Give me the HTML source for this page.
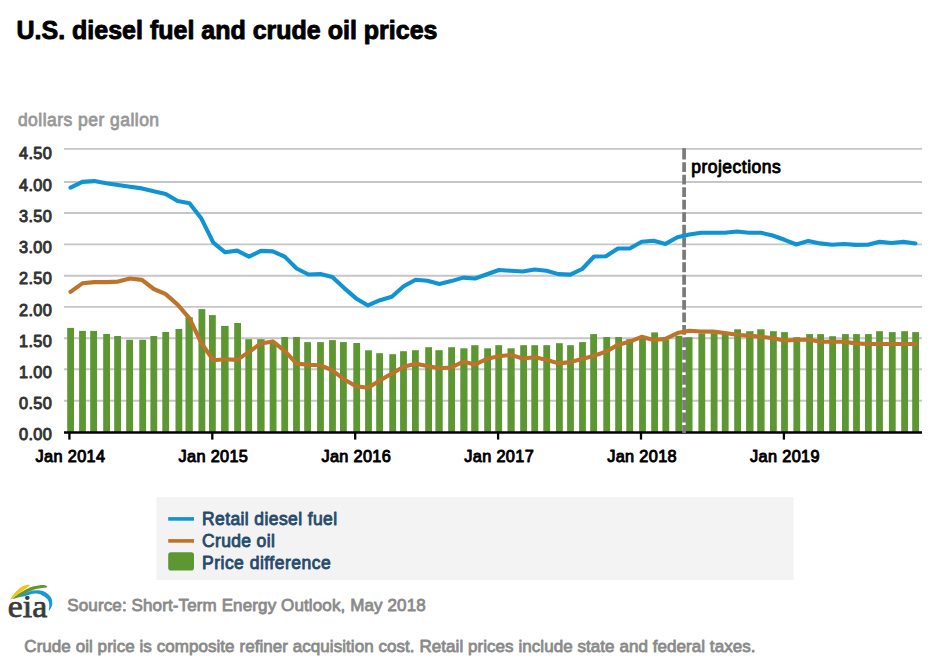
<!DOCTYPE html>
<html lang="en">
<head>
<meta charset="utf-8">
<title>U.S. diesel fuel and crude oil prices</title>
<style>
html,body{margin:0;padding:0;background:#fff;}
body{width:938px;height:660px;overflow:hidden;font-family:"Liberation Sans",sans-serif;}
svg{display:block;}
svg text{font-family:"Liberation Sans",sans-serif;}
</style>
</head>
<body>
<svg width="938" height="660" viewBox="0 0 938 660">
<rect x="0" y="0" width="938" height="660" fill="#ffffff"/>
<text x="16.5" y="38.5" font-size="25" font-weight="bold" fill="#000" stroke="#000" stroke-width="0.9" stroke-linejoin="round">U.S. diesel fuel and crude oil prices</text>
<text x="17.9" y="126.3" font-size="17.5" font-weight="normal" fill="#999999" stroke="#999999" stroke-width="0.8" stroke-linejoin="round" text-anchor="start" textLength="141.2" lengthAdjust="spacing">dollars per gallon</text>
<g stroke="#c6c6c6" stroke-width="1.9">
<line x1="64" y1="400.8" x2="922" y2="400.8"/>
<line x1="64" y1="369.3" x2="922" y2="369.3"/>
<line x1="64" y1="338.3" x2="922" y2="338.3"/>
<line x1="64" y1="306.9" x2="922" y2="306.9"/>
<line x1="64" y1="275.8" x2="922" y2="275.8"/>
<line x1="64" y1="244.4" x2="922" y2="244.4"/>
<line x1="64" y1="213.0" x2="922" y2="213.0"/>
<line x1="64" y1="182.0" x2="922" y2="182.0"/>
<line x1="64" y1="148.9" x2="922" y2="148.9"/>
</g>
<text x="18.9" y="440.4" font-size="16.3" font-weight="normal" fill="#333333" stroke="#333333" stroke-width="0.95" stroke-linejoin="round" text-anchor="start" textLength="33.0" lengthAdjust="spacing">0.00</text>
<text x="18.9" y="409.2" font-size="16.3" font-weight="normal" fill="#333333" stroke="#333333" stroke-width="0.95" stroke-linejoin="round" text-anchor="start" textLength="33.0" lengthAdjust="spacing">0.50</text>
<text x="18.9" y="378.0" font-size="16.3" font-weight="normal" fill="#333333" stroke="#333333" stroke-width="0.95" stroke-linejoin="round" text-anchor="start" textLength="33.0" lengthAdjust="spacing">1.00</text>
<text x="18.9" y="346.7" font-size="16.3" font-weight="normal" fill="#333333" stroke="#333333" stroke-width="0.95" stroke-linejoin="round" text-anchor="start" textLength="33.0" lengthAdjust="spacing">1.50</text>
<text x="18.9" y="315.5" font-size="16.3" font-weight="normal" fill="#333333" stroke="#333333" stroke-width="0.95" stroke-linejoin="round" text-anchor="start" textLength="33.0" lengthAdjust="spacing">2.00</text>
<text x="18.9" y="284.3" font-size="16.3" font-weight="normal" fill="#333333" stroke="#333333" stroke-width="0.95" stroke-linejoin="round" text-anchor="start" textLength="33.0" lengthAdjust="spacing">2.50</text>
<text x="18.9" y="253.1" font-size="16.3" font-weight="normal" fill="#333333" stroke="#333333" stroke-width="0.95" stroke-linejoin="round" text-anchor="start" textLength="33.0" lengthAdjust="spacing">3.00</text>
<text x="18.9" y="221.9" font-size="16.3" font-weight="normal" fill="#333333" stroke="#333333" stroke-width="0.95" stroke-linejoin="round" text-anchor="start" textLength="33.0" lengthAdjust="spacing">3.50</text>
<text x="18.9" y="190.6" font-size="16.3" font-weight="normal" fill="#333333" stroke="#333333" stroke-width="0.95" stroke-linejoin="round" text-anchor="start" textLength="33.0" lengthAdjust="spacing">4.00</text>
<text x="18.9" y="159.4" font-size="16.3" font-weight="normal" fill="#333333" stroke="#333333" stroke-width="0.95" stroke-linejoin="round" text-anchor="start" textLength="33.0" lengthAdjust="spacing">4.50</text>
<g fill="#5d9732">
<rect x="67.2" y="327.9" width="6.8" height="104.6"/>
<rect x="79.1" y="330.9" width="6.8" height="101.6"/>
<rect x="90.2" y="330.9" width="6.8" height="101.6"/>
<rect x="103.2" y="334.0" width="6.8" height="98.5"/>
<rect x="114.2" y="336.0" width="6.8" height="96.5"/>
<rect x="126.2" y="339.8" width="6.8" height="92.7"/>
<rect x="139.3" y="339.8" width="6.8" height="92.7"/>
<rect x="150.4" y="336.0" width="6.8" height="96.5"/>
<rect x="162.3" y="332.0" width="6.8" height="100.5"/>
<rect x="175.5" y="329.0" width="6.8" height="103.5"/>
<rect x="185.5" y="317.3" width="7.3" height="115.2"/>
<rect x="198.5" y="309.1" width="6.8" height="123.4"/>
<rect x="209.0" y="315.1" width="6.8" height="117.4"/>
<rect x="221.1" y="325.9" width="7.5" height="106.6"/>
<rect x="234.2" y="323.0" width="6.8" height="109.5"/>
<rect x="245.3" y="339.2" width="6.8" height="93.3"/>
<rect x="257.2" y="339.2" width="7.4" height="93.3"/>
<rect x="269.7" y="342.0" width="6.8" height="90.5"/>
<rect x="281.3" y="337.0" width="6.8" height="95.5"/>
<rect x="293.1" y="337.0" width="6.8" height="95.5"/>
<rect x="304.2" y="342.1" width="6.8" height="90.4"/>
<rect x="317.1" y="342.1" width="6.8" height="90.4"/>
<rect x="329.1" y="340.1" width="6.8" height="92.4"/>
<rect x="340.0" y="342.1" width="6.8" height="90.4"/>
<rect x="353.3" y="343.0" width="6.8" height="89.5"/>
<rect x="365.1" y="350.3" width="6.8" height="82.2"/>
<rect x="376.2" y="353.2" width="6.8" height="79.3"/>
<rect x="389.3" y="354.2" width="6.8" height="78.3"/>
<rect x="400.1" y="351.2" width="6.8" height="81.3"/>
<rect x="412.0" y="350.2" width="6.8" height="82.3"/>
<rect x="425.2" y="347.2" width="6.8" height="85.3"/>
<rect x="435.4" y="350.2" width="7.3" height="82.3"/>
<rect x="448.2" y="347.2" width="6.8" height="85.3"/>
<rect x="460.3" y="348.3" width="7.2" height="84.2"/>
<rect x="471.2" y="345.2" width="7.3" height="87.3"/>
<rect x="484.2" y="348.3" width="6.8" height="84.2"/>
<rect x="495.3" y="345.2" width="6.8" height="87.3"/>
<rect x="507.5" y="348.3" width="7.2" height="84.2"/>
<rect x="520.2" y="345.2" width="6.8" height="87.3"/>
<rect x="531.3" y="345.2" width="6.8" height="87.3"/>
<rect x="543.3" y="345.2" width="6.8" height="87.3"/>
<rect x="556.0" y="343.2" width="6.8" height="89.3"/>
<rect x="567.1" y="345.2" width="6.8" height="87.3"/>
<rect x="579.1" y="342.1" width="6.8" height="90.4"/>
<rect x="590.2" y="334.1" width="6.8" height="98.4"/>
<rect x="603.3" y="337.0" width="6.8" height="95.5"/>
<rect x="615.2" y="337.0" width="6.8" height="95.5"/>
<rect x="626.3" y="339.2" width="6.8" height="93.3"/>
<rect x="639.1" y="338.0" width="6.8" height="94.5"/>
<rect x="651.2" y="332.4" width="6.8" height="100.1"/>
<rect x="662.4" y="340.0" width="6.8" height="92.5"/>
<rect x="675.4" y="335.8" width="6.8" height="96.7"/>
<rect x="685.7" y="337.2" width="6.8" height="95.3"/>
<rect x="698.4" y="333.3" width="6.8" height="99.2"/>
<rect x="710.7" y="333.3" width="6.8" height="99.2"/>
<rect x="721.8" y="334.0" width="6.8" height="98.5"/>
<rect x="734.2" y="329.3" width="6.8" height="103.2"/>
<rect x="746.1" y="331.2" width="7.4" height="101.3"/>
<rect x="757.2" y="329.3" width="7.4" height="103.2"/>
<rect x="770.0" y="331.2" width="6.8" height="101.3"/>
<rect x="781.1" y="332.1" width="6.8" height="100.4"/>
<rect x="793.4" y="337.2" width="6.8" height="95.3"/>
<rect x="806.2" y="334.1" width="6.8" height="98.4"/>
<rect x="817.2" y="334.1" width="6.8" height="98.4"/>
<rect x="829.2" y="336.2" width="6.8" height="96.3"/>
<rect x="842.0" y="334.1" width="6.8" height="98.4"/>
<rect x="853.1" y="334.1" width="6.8" height="98.4"/>
<rect x="865.0" y="334.1" width="6.8" height="98.4"/>
<rect x="876.1" y="331.2" width="6.8" height="101.3"/>
<rect x="888.9" y="332.1" width="6.8" height="100.4"/>
<rect x="901.2" y="331.2" width="6.8" height="101.3"/>
<rect x="912.2" y="332.1" width="6.8" height="100.4"/>
</g>
<line x1="64" y1="432.5" x2="922" y2="432.5" stroke="#000" stroke-width="2.6"/>
<line x1="69.4" y1="432" x2="69.4" y2="439.6" stroke="#000" stroke-width="2.3"/>
<text x="35.6" y="462.3" font-size="16.3" font-weight="normal" fill="#000000" stroke="#000000" stroke-width="0.95" stroke-linejoin="round" text-anchor="start" textLength="69.4" lengthAdjust="spacing">Jan 2014</text>
<line x1="212.3" y1="432" x2="212.3" y2="439.6" stroke="#000" stroke-width="2.3"/>
<text x="178.5" y="462.3" font-size="16.3" font-weight="normal" fill="#000000" stroke="#000000" stroke-width="0.95" stroke-linejoin="round" text-anchor="start" textLength="69.4" lengthAdjust="spacing">Jan 2015</text>
<line x1="355.2" y1="432" x2="355.2" y2="439.6" stroke="#000" stroke-width="2.3"/>
<text x="321.4" y="462.3" font-size="16.3" font-weight="normal" fill="#000000" stroke="#000000" stroke-width="0.95" stroke-linejoin="round" text-anchor="start" textLength="69.4" lengthAdjust="spacing">Jan 2016</text>
<line x1="498.1" y1="432" x2="498.1" y2="439.6" stroke="#000" stroke-width="2.3"/>
<text x="464.3" y="462.3" font-size="16.3" font-weight="normal" fill="#000000" stroke="#000000" stroke-width="0.95" stroke-linejoin="round" text-anchor="start" textLength="69.4" lengthAdjust="spacing">Jan 2017</text>
<line x1="641.0" y1="432" x2="641.0" y2="439.6" stroke="#000" stroke-width="2.3"/>
<text x="607.2" y="462.3" font-size="16.3" font-weight="normal" fill="#000000" stroke="#000000" stroke-width="0.95" stroke-linejoin="round" text-anchor="start" textLength="69.4" lengthAdjust="spacing">Jan 2018</text>
<line x1="783.9" y1="432" x2="783.9" y2="439.6" stroke="#000" stroke-width="2.3"/>
<text x="750.1" y="462.3" font-size="16.3" font-weight="normal" fill="#000000" stroke="#000000" stroke-width="0.95" stroke-linejoin="round" text-anchor="start" textLength="69.4" lengthAdjust="spacing">Jan 2019</text>
<line x1="684.1" y1="148.2" x2="684.1" y2="150" stroke="#7a7a7a" stroke-width="3.7"/>
<line x1="684.1" y1="149.65" x2="684.1" y2="433" stroke="#7a7a7a" stroke-width="3.7" stroke-dasharray="9.85 2.67"/>
<text x="691.2" y="173.4" font-size="17.5" font-weight="normal" fill="#000000" stroke="#000000" stroke-width="0.9" stroke-linejoin="round" text-anchor="start" textLength="89.6" lengthAdjust="spacing">projections</text>
<path d="M70.5,291.9 L82.4,283.3 L94.3,282.1 L106.2,282.1 L118.1,281.6 L130.0,278.5 L141.9,279.9 L153.8,289.0 L165.7,294.1 L177.6,304.6 L189.5,318.3 L201.4,343.0 L213.3,360.3 L225.2,359.3 L237.1,359.9 L249.0,351.9 L260.9,343.4 L272.8,341.4 L284.7,350.8 L296.6,363.6 L308.5,364.8 L320.4,365.2 L332.3,370.3 L344.2,379.5 L356.1,386.2 L368.0,387.8 L379.9,380.6 L391.8,373.6 L403.7,366.8 L415.6,363.7 L427.5,366.1 L439.4,368.2 L451.3,367.5 L463.2,361.7 L475.1,364.5 L487.0,358.8 L498.9,356.2 L510.8,354.9 L522.7,358.5 L534.6,357.2 L546.5,359.7 L558.4,363.4 L570.3,362.1 L582.2,358.9 L594.1,355.7 L606.0,351.6 L617.9,344.9 L629.8,341.6 L641.7,336.8 L653.6,340.0 L665.5,338.9 L677.4,333.1 L689.3,330.7 L701.2,331.5 L713.1,331.6 L725.0,333.0 L736.9,334.8 L748.8,335.7 L760.7,336.6 L772.6,338.2 L784.5,340.5 L796.4,340.0 L808.3,339.5 L820.2,341.8 L832.1,341.8 L844.0,341.8 L855.9,343.4 L867.8,344.0 L879.7,344.0 L891.6,344.0 L903.5,344.0 L915.4,344.0" fill="none" stroke="#bd732a" stroke-width="4.1" stroke-linejoin="round" stroke-linecap="round"/>
<path d="M70.5,187.6 L82.4,181.9 L94.3,181.1 L106.2,183.3 L118.1,185.0 L130.0,186.7 L141.9,188.4 L153.8,191.3 L165.7,193.9 L177.6,201.0 L189.5,203.3 L201.4,218.6 L213.3,242.7 L225.2,252.3 L237.1,250.6 L249.0,256.6 L260.9,250.9 L272.8,251.4 L284.7,256.6 L296.6,268.5 L308.5,274.5 L320.4,274.1 L332.3,277.0 L344.2,288.1 L356.1,298.4 L368.0,305.4 L379.9,300.2 L391.8,296.8 L403.7,286.2 L415.6,279.7 L427.5,280.7 L439.4,284.0 L451.3,281.1 L463.2,277.6 L475.1,278.5 L487.0,274.2 L498.9,270.0 L510.8,270.8 L522.7,271.5 L534.6,269.5 L546.5,270.7 L558.4,274.1 L570.3,274.6 L582.2,269.0 L594.1,256.5 L606.0,256.2 L617.9,248.5 L629.8,248.5 L641.7,241.7 L653.6,240.8 L665.5,243.9 L677.4,237.3 L689.3,234.5 L701.2,232.7 L713.1,232.7 L725.0,232.7 L736.9,231.5 L748.8,232.7 L760.7,232.7 L772.6,235.5 L784.5,239.8 L796.4,244.5 L808.3,240.9 L820.2,243.4 L832.1,244.7 L844.0,244.0 L855.9,244.9 L867.8,244.7 L879.7,241.8 L891.6,243.0 L903.5,241.8 L915.4,243.5" fill="none" stroke="#0f93d2" stroke-width="4.1" stroke-linejoin="round" stroke-linecap="round"/>
<rect x="156.4" y="497.3" width="637.2" height="82.8" fill="#f3f3f3"/>
<line x1="168.2" y1="518.9" x2="194" y2="518.9" stroke="#0f93d2" stroke-width="3.6"/>
<text x="202.0" y="525.1" font-size="17.5" font-weight="normal" fill="#274b6d" stroke="#274b6d" stroke-width="0.85" stroke-linejoin="round" text-anchor="start" textLength="135.1" lengthAdjust="spacing">Retail diesel fuel</text>
<line x1="168.2" y1="540.9" x2="194" y2="540.9" stroke="#bd732a" stroke-width="3.6"/>
<text x="202.0" y="547.0" font-size="17.5" font-weight="normal" fill="#274b6d" stroke="#274b6d" stroke-width="0.85" stroke-linejoin="round" text-anchor="start" textLength="72.8" lengthAdjust="spacing">Crude oil</text>
<rect x="168.2" y="552.2" width="25.8" height="18.4" rx="2.8" ry="2.8" fill="#5d9732"/>
<text x="202.0" y="568.7" font-size="17.5" font-weight="normal" fill="#274b6d" stroke="#274b6d" stroke-width="0.85" stroke-linejoin="round" text-anchor="start" textLength="128.7" lengthAdjust="spacing">Price difference</text>
<g id="logo">
<path d="M17.40,597.20 C17.57,596.68 21.85,594.48 24.00,593.50 C26.15,592.52 28.23,591.83 30.30,591.30 C32.37,590.77 34.28,590.35 36.40,590.30 C38.52,590.25 40.98,590.30 43.00,591.00 C45.02,591.70 47.08,593.25 48.50,594.50 C49.92,595.75 50.87,596.95 51.50,598.50 C52.13,600.05 52.35,602.30 52.30,603.80 C52.25,605.30 51.75,606.40 51.20,607.50 C50.65,608.60 49.32,610.82 49.00,610.40 C48.68,609.98 49.38,606.57 49.30,605.00 C49.22,603.43 49.05,602.22 48.50,601.00 C47.95,599.78 47.08,598.67 46.00,597.70 C44.92,596.73 43.60,595.88 42.00,595.20 C40.40,594.52 38.40,593.73 36.40,593.60 C34.40,593.47 32.23,593.90 30.00,594.40 C27.77,594.90 25.10,596.13 23.00,596.60 C20.90,597.07 17.23,597.72 17.40,597.20Z" fill="#1b97d4"/>
<path d="M12.50,598.80 C12.50,598.33 15.42,596.17 17.00,595.00 C18.58,593.83 20.00,592.97 22.00,591.80 C24.00,590.63 27.00,588.92 29.00,588.00 C31.00,587.08 32.17,586.77 34.00,586.30 C35.83,585.83 38.08,585.35 40.00,585.20 C41.92,585.05 44.30,585.07 45.50,585.40 C46.70,585.73 47.78,586.78 47.20,587.20 C46.62,587.62 43.87,587.58 42.00,587.90 C40.13,588.22 38.00,588.55 36.00,589.10 C34.00,589.65 32.00,590.38 30.00,591.20 C28.00,592.02 26.17,592.90 24.00,594.00 C21.83,595.10 18.92,597.00 17.00,597.80 C15.08,598.60 12.50,599.27 12.50,598.80Z" fill="#5d9732"/>
<path d="M10.40,599.40 C10.15,599.08 12.33,596.03 13.50,594.50 C14.67,592.97 16.15,591.40 17.40,590.20 C18.65,589.00 19.80,588.08 21.00,587.30 C22.20,586.52 23.18,585.92 24.60,585.50 C26.02,585.08 28.85,584.62 29.50,584.80 C30.15,584.98 29.25,585.87 28.50,586.60 C27.75,587.33 26.42,588.20 25.00,589.20 C23.58,590.20 21.67,591.40 20.00,592.60 C18.33,593.80 16.60,595.27 15.00,596.40 C13.40,597.53 10.65,599.72 10.40,599.40Z" fill="#f2c41a"/>
<text x="7.8" y="617.2" font-size="32.5" font-weight="normal" fill="#3a3a3a" stroke="#3a3a3a" stroke-width="0.75" textLength="39.4" lengthAdjust="spacingAndGlyphs" style="font-family:'Liberation Serif',serif">eia</text>
</g>
<text x="67.3" y="611.1" font-size="17" font-weight="normal" fill="#8a8a8a" stroke="#8a8a8a" stroke-width="0.8" stroke-linejoin="round" text-anchor="start" textLength="358.4" lengthAdjust="spacing">Source: Short-Term Energy Outlook, May 2018</text>
<text x="24.3" y="651.6" font-size="17" font-weight="normal" fill="#8a8a8a" stroke="#8a8a8a" stroke-width="0.8" stroke-linejoin="round" text-anchor="start" textLength="731.2" lengthAdjust="spacing">Crude oil price is composite refiner acquisition cost. Retail prices include state and federal taxes.</text>
</svg>
</body>
</html>
